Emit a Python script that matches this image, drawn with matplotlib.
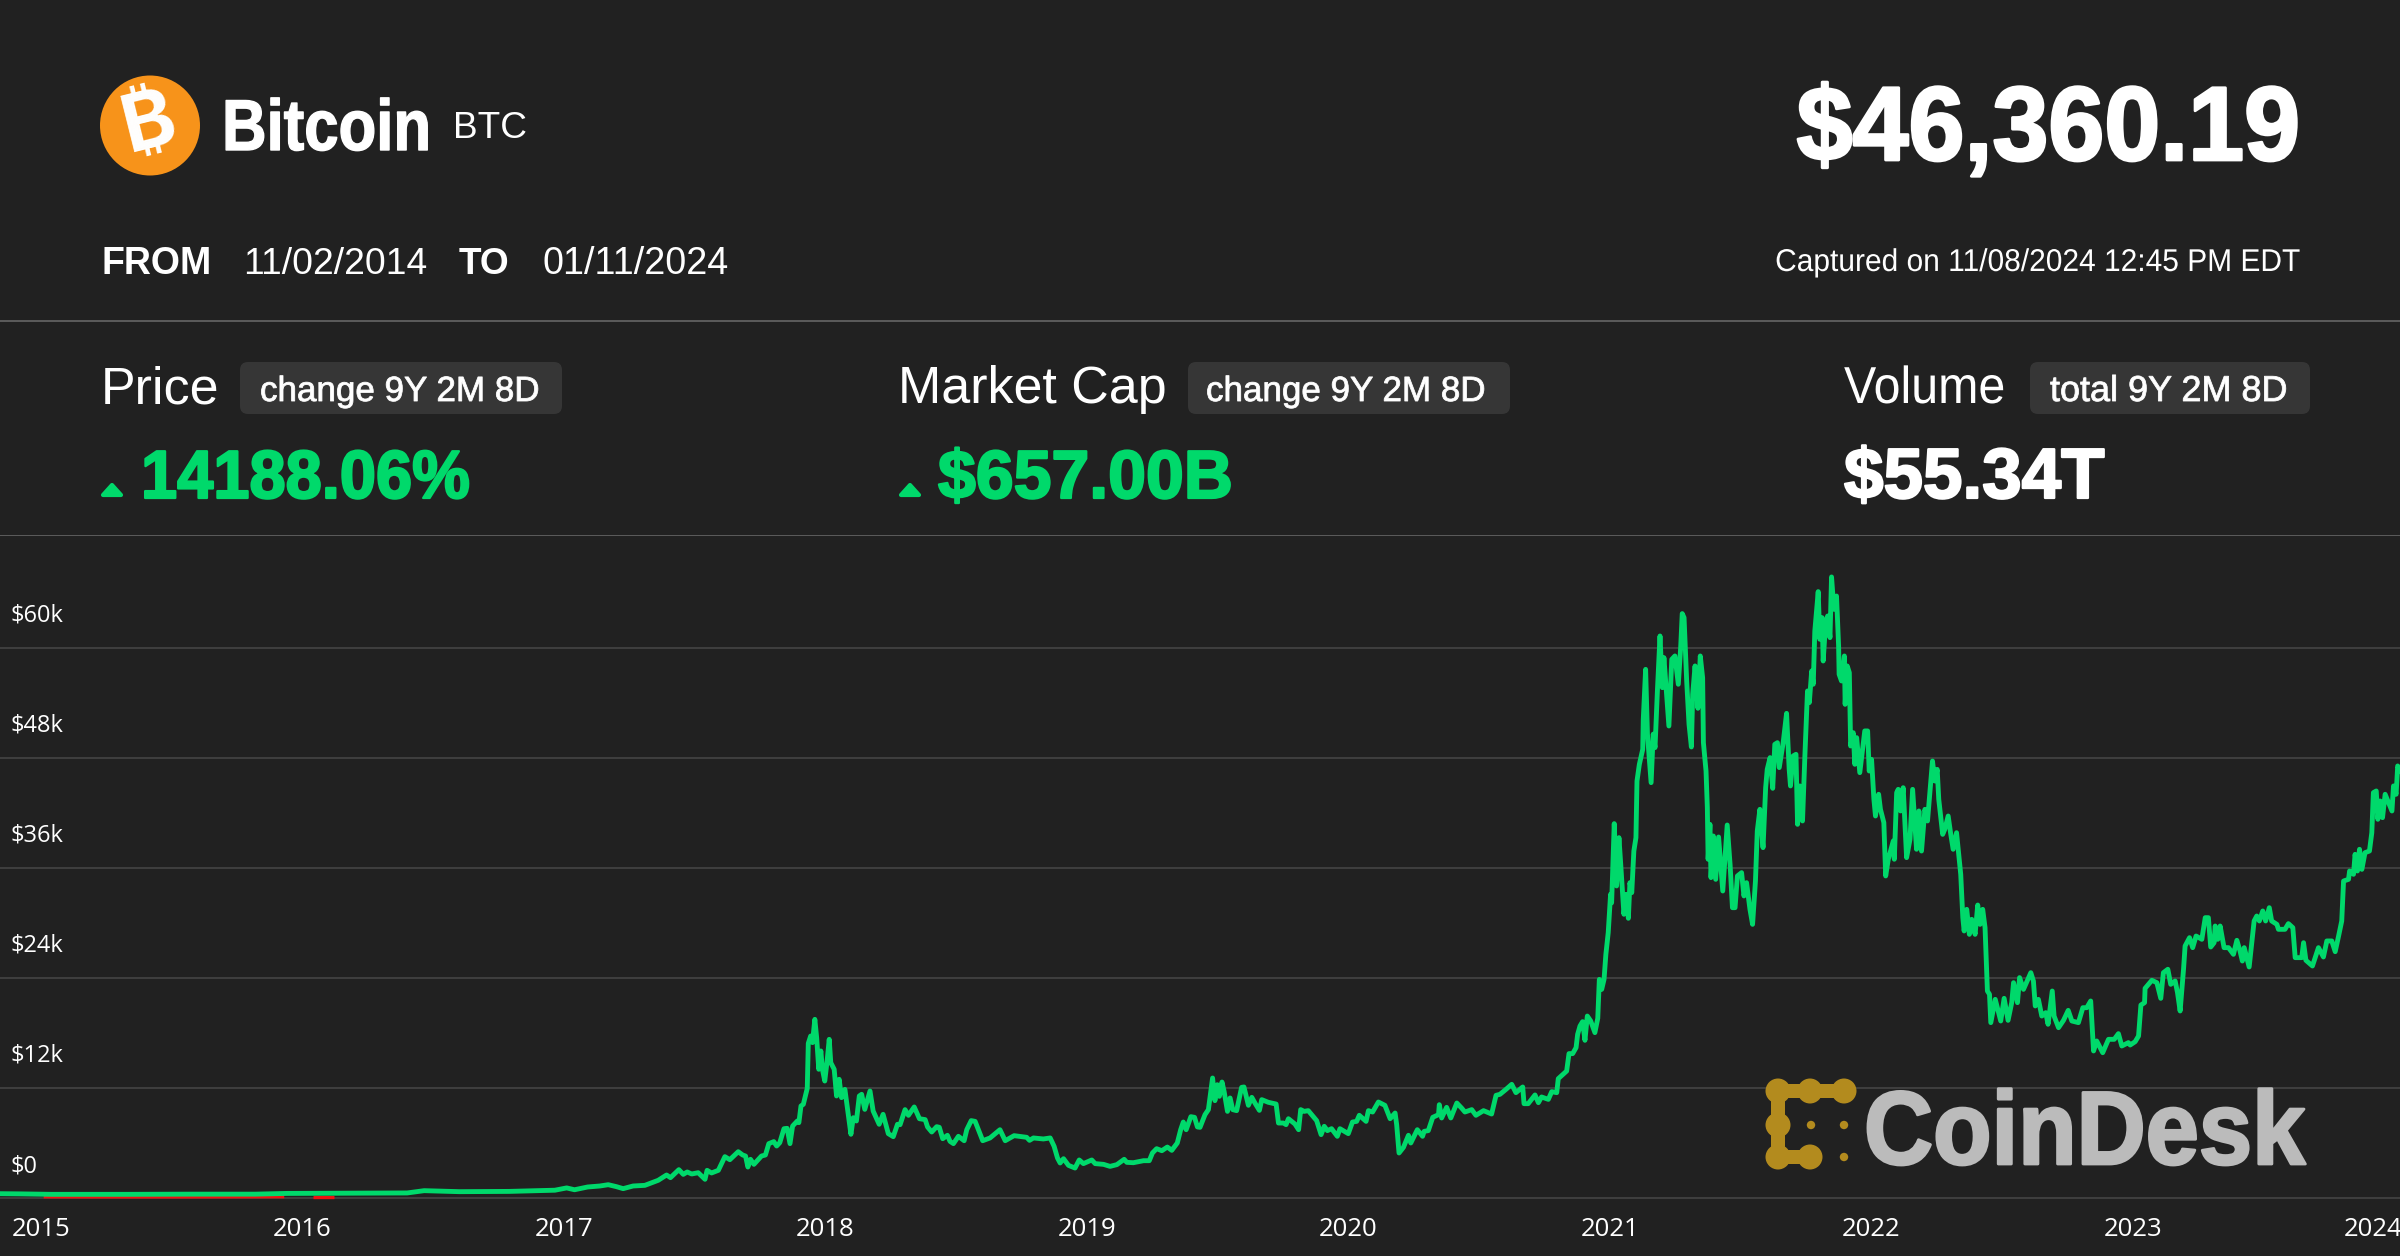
import numpy as np
import matplotlib
matplotlib.use("Agg")
import matplotlib.pyplot as plt
from matplotlib import font_manager as fm
from matplotlib.ft2font import FT2Font
from matplotlib.patches import Circle, FancyBboxPatch, Polygon, Rectangle
from matplotlib.patheffects import AbstractPathEffect
from matplotlib.transforms import Affine2D, ScaledTranslation

# ---------- data (decimal year, price in $k) ----------
years_early = [2014.843,2014.92,2015.04,2015.33,2015.575,2015.82,2015.94,2016.21,2016.40,2016.465,2016.60,2016.79,2016.965,2017.01,2017.04,2017.09]
price_early = [0.47,0.45,0.40,0.40,0.42,0.42,0.50,0.53,0.55,0.80,0.69,0.72,0.85,1.10,0.90,1.20]

years_2017 = [2017.137,2017.169,2017.20,2017.226,2017.264,2017.309,2017.36,2017.392,2017.407,2017.439,2017.456,2017.471,2017.488,2017.513,2017.539,2017.547,2017.564,2017.59,2017.615,2017.634,2017.666,2017.683,2017.694,2017.703,2017.713,2017.726,2017.755,2017.77,2017.783,2017.802,2017.813,2017.825,2017.841,2017.853,2017.864,2017.874,2017.892,2017.898,2017.906,2017.915,2017.93,2017.934,2017.943,2017.95,2017.959,2017.966,2017.974,2017.982,2017.988,2017.997]
price_2017 = [1.31,1.45,1.24,1.02,1.31,1.38,1.93,2.51,2.22,3.09,2.58,2.84,2.62,2.76,2.04,3.02,2.73,3.02,4.51,4.18,5.05,4.69,4.58,3.38,4.22,3.67,4.58,4.69,5.93,6.15,5.67,6.04,7.56,7.6,5.93,7.85,8.4,8.22,10.04,10.22,11.96,16.87,17.67,16.95,19.49,17.49,14.04,16.04,14.04,12.76]

years_2018 = [2018.006,2018.014,2018.02,2018.033,2018.042,2018.052,2018.061,2018.074,2018.087,2018.097,2018.106,2018.118,2018.129,2018.138,2018.15,2018.17,2018.182,2018.205,2018.22,2018.24,2018.259,2018.275,2018.285,2018.304,2018.317,2018.339,2018.359,2018.381,2018.39,2018.406,2018.425,2018.435,2018.448,2018.466,2018.476,2018.489,2018.508,2018.53,2018.54,2018.557,2018.572,2018.601,2018.629,2018.667,2018.687,2018.706,2018.721,2018.769,2018.78,2018.795,2018.833,2018.859,2018.874,2018.887,2018.897,2018.91,2018.929,2018.954,2018.97,2018.986]
price_2018 = [14.95,17.31,14.76,14.04,11.13,12.95,10.95,11.85,9.13,6.95,8.76,8.4,11.13,11.31,9.67,11.67,9.49,8.04,9.13,7.02,6.69,8.04,8.0,9.64,9.02,9.93,8.65,8.55,7.75,7.2,7.78,7.71,6.47,6.84,6.18,5.93,6.73,6.25,7.45,8.44,8.36,6.25,6.55,7.45,6.25,6.55,6.8,6.62,6.29,6.55,6.44,6.55,5.64,4.36,3.82,4.29,3.56,3.27,4.15,3.75]

years_2019 = [2019.018,2019.031,2019.063,2019.088,2019.114,2019.142,2019.152,2019.177,2019.216,2019.238,2019.25,2019.266,2019.286,2019.307,2019.324,2019.345,2019.358,2019.368,2019.379,2019.397,2019.411,2019.422,2019.432,2019.451,2019.464,2019.48,2019.489,2019.498,2019.506,2019.516,2019.524,2019.537,2019.547,2019.557,2019.572,2019.591,2019.6,2019.617,2019.63,2019.642,2019.659,2019.668,2019.693,2019.723,2019.732,2019.751,2019.761,2019.77,2019.795,2019.809,2019.817,2019.83,2019.846,2019.878,2019.895,2019.907,2019.919,2019.935,2019.957,2019.967,2019.999]
price_2019 = [4.15,3.75,3.67,3.45,3.64,4.22,3.89,3.85,4.07,4.07,4.91,5.38,5.16,5.56,5.2,6.0,7.45,8.29,7.45,8.87,8.8,7.75,7.71,9.09,9.64,13.09,10.62,12.36,11.09,12.65,11.64,9.45,10.91,9.64,9.53,12.07,12.11,10.11,10.98,10.36,9.56,10.73,10.44,10.25,8.18,8.18,8.0,8.65,8.07,7.45,9.64,9.45,9.53,8.44,6.91,7.82,7.35,7.56,6.73,7.56,7.02]

years_2020 = [2020.015,2020.031,2020.041,2020.067,2020.076,2020.092,2020.114,2020.139,2020.159,2020.178,2020.184,2020.193,2020.21,2020.229,2020.238,2020.263,2020.283,2020.289,2020.305,2020.322,2020.344,2020.347,2020.356,2020.375,2020.391,2020.414,2020.432,2020.445,2020.471,2020.487,2020.516,2020.547,2020.564,2020.579,2020.602,2020.624,2020.64,2020.666,2020.671,2020.687,2020.713,2020.726,2020.738,2020.764,2020.777,2020.796,2020.802,2020.834,2020.843,2020.857,2020.87,2020.876,2020.885,2020.895,2020.904,2020.913,2020.926,2020.942,2020.953,2020.959,2020.968,2020.977,2020.984,2020.993]
price_2020 = [8.29,8.36,9.02,8.36,9.53,9.38,10.47,10.11,8.65,9.27,8.0,4.91,5.53,6.84,6.0,7.45,6.73,7.27,7.35,8.8,9.09,10.18,8.73,9.89,8.73,10.36,9.82,9.38,9.64,9.02,9.53,9.16,11.2,11.31,11.85,12.4,11.49,12.11,10.29,10.29,11.24,10.4,11.02,10.76,11.6,11.49,13.02,13.85,15.75,15.75,16.4,17.85,18.76,19.24,17.2,19.85,19.31,18.04,19.6,23.85,22.76,23.85,26.58,28.95]

years_2021 = [2021.002,2021.006,2021.016,2021.025,2021.034,2021.04,2021.053,2021.061,2021.07,2021.076,2021.083,2021.091,2021.099,2021.103,2021.112,2021.125,2021.127,2021.136,2021.143,2021.157,2021.165,2021.172,2021.181,2021.191,2021.2,2021.206,2021.216,2021.225,2021.236,2021.248,2021.261,2021.27,2021.276,2021.283,2021.293,2021.302,2021.311,2021.316,2021.325,2021.336,2021.345,2021.354,2021.357,2021.367,2021.372,2021.375,2021.382,2021.386,2021.395,2021.404,2021.415,2021.431,2021.448,2021.459,2021.468,2021.478,2021.487,2021.503,2021.512,2021.522,2021.535,2021.545,2021.556,2021.563,2021.573,2021.585,2021.595,2021.601,2021.612,2021.622,2021.63,2021.64,2021.647,2021.662,2021.675,2021.685,2021.69,2021.7,2021.711,2021.717,2021.726,2021.736,2021.745,2021.755,2021.762,2021.771,2021.777,2021.783,2021.796,2021.802,2021.811,2021.815,2021.824,2021.832,2021.841,2021.847,2021.856,2021.866,2021.874,2021.876,2021.885,2021.896,2021.899,2021.907,2021.915,2021.92,2021.93,2021.936,2021.943,2021.955,2021.974,2021.985,2021.991]
price_2021 = [33.13,32.2,40.84,34.04,39.31,36.76,30.95,33.13,30.51,34.4,33.31,37.85,39.31,45.49,47.3,48.95,52.2,57.67,50.6,45.31,50.6,49.13,55.3,61.31,55.67,58.95,54.95,51.49,58.76,59.13,56.04,60.04,63.75,63.31,56.4,51.67,49.2,54.95,58.04,53.42,59.13,56.76,49.67,46.58,42.58,36.95,40.76,34.95,39.49,34.76,39.38,33.49,40.69,36.38,31.67,31.67,35.13,35.49,32.95,34.4,31.49,29.85,34.58,40.04,42.4,38.22,44.76,46.76,48.04,44.69,49.49,49.67,46.95,49.67,52.87,46.76,44.95,48.22,48.4,40.76,44.95,41.13,48.22,55.31,54.04,57.49,56.04,61.85,66.15,60.95,63.31,58.58,62.58,63.49,61.13,67.75,64.22,65.67,60.22,57.13,56.4,59.13,53.85,58.04,57.31,49.31,50.76,47.31,50.22,46.4,50.95,50.95,46.58]

years_2022 = [2022.0,2022.009,2022.015,2022.027,2022.034,2022.047,2022.054,2022.064,2022.083,2022.087,2022.096,2022.102,2022.111,2022.121,2022.134,2022.147,2022.157,2022.172,2022.181,2022.191,2022.204,2022.214,2022.226,2022.233,2022.242,2022.251,2022.257,2022.272,2022.28,2022.293,2022.302,2022.312,2022.325,2022.332,2022.341,2022.349,2022.354,2022.364,2022.374,2022.383,2022.396,2022.406,2022.415,2022.425,2022.434,2022.443,2022.451,2022.456,2022.473,2022.494,2022.507,2022.522,2022.536,2022.543,2022.558,2022.566,2022.581,2022.609,2022.619,2022.626,2022.638,2022.651,2022.666,2022.675,2022.691,2022.698,2022.715,2022.734,2022.752,2022.766,2022.791,2022.808,2022.823,2022.838,2022.849,2022.861,2022.884,2022.906,2022.928,2022.944,2022.957,2022.982,2022.989]
price_2022 = [47.85,43.49,41.67,44.04,42.4,40.95,35.13,36.95,38.95,36.95,44.22,44.58,42.22,44.76,37.13,39.13,44.58,38.04,42.22,37.85,42.4,41.13,45.31,47.67,45.49,46.76,43.49,39.67,40.22,41.67,39.85,38.04,39.85,37.85,35.31,30.58,29.13,31.49,28.76,30.4,28.76,31.96,29.85,31.49,29.49,22.58,22.22,19.13,21.67,19.31,21.78,19.38,21.31,23.49,21.31,24.04,22.76,24.58,23.67,20.95,21.67,19.85,20.22,18.95,22.58,19.85,18.58,19.38,20.47,19.31,19.13,20.76,20.76,21.49,16.04,17.13,15.85,17.31,17.31,17.93,16.58,16.95,16.69]

years_2023 = [2023.008,2023.021,2023.03,2023.044,2023.046,2023.072,2023.091,2023.106,2023.116,2023.133,2023.144,2023.161,2023.17,2023.18,2023.193,2023.199,2023.216,2023.228,2023.241,2023.263,2023.276,2023.288,2023.297,2023.31,2023.314,2023.324,2023.333,2023.348,2023.365,2023.384,2023.397,2023.409,2023.418,2023.425,2023.444,2023.463,2023.473,2023.483,2023.496,2023.507,2023.521,2023.53,2023.55,2023.556,2023.581,2023.594,2023.611,2023.62,2023.645,2023.652,2023.661,2023.686,2023.709,2023.728,2023.741,2023.76,2023.773,2023.786,2023.798,2023.805,2023.824,2023.828,2023.843,2023.849,2023.858,2023.866,2023.875,2023.887,2023.904,2023.913,2023.919,2023.93,2023.936,2023.945,2023.954,2023.964,2023.99,2023.996,2024.006,2024.012,2024.021]
price_2023 = [17.05,17.67,21.05,21.31,22.87,23.75,23.49,21.78,24.58,24.95,23.31,23.67,22.4,20.4,24.95,27.49,28.4,27.31,28.58,28.22,30.58,30.58,27.38,27.85,29.67,28.22,29.67,27.31,27.31,26.58,28.11,26.95,25.85,27.31,25.2,30.22,30.76,30.22,31.31,30.22,31.67,30.22,29.85,29.31,29.31,29.93,29.49,26.22,26.22,27.85,25.93,25.31,27.31,26.29,28.04,28.04,26.87,28.58,30.22,34.58,34.76,35.67,35.31,37.49,35.67,38.04,35.85,37.67,37.85,39.85,44.22,44.4,41.31,43.31,41.49,44.04,42.22,44.95,44.04,47.13,46.58]

years_red_a = [2015.01,2015.2,2015.5,2015.75,2015.93]
price_red_a = [0.13,0.12,0.12,0.13,0.14]
years_red_b = [2016.04,2016.12]
price_red_b = [0.14,0.14]

tick_years = [2015,2016,2017,2018,2019,2020,2021,2022,2023,2024]
tick_prices = [0,12,24,36,48,60]
tick_price_labels = ["$0","$12k","$24k","$36k","$48k","$60k"]

years = years_early+years_2017+years_2018+years_2019+years_2020+years_2021+years_2022+years_2023
prices = price_early+price_2017+price_2018+price_2019+price_2020+price_2021+price_2022+price_2023

BG = "#212121"; GREEN = "#00D96B"; RED = "#F01010"
W, H = 2400, 1256


class Tall(AbstractPathEffect):
    """Stretch the text upward from its baseline and thicken it, for the tight, heavy original face."""
    def __init__(self, base_y, sy=1.0, stroke=0.0):
        super().__init__()
        self.base_y, self.sy, self.stroke = base_y, sy, stroke
    def draw_path(self, renderer, gc, tpath, affine, rgbFace=None):
        a = affine + Affine2D().translate(0, -self.base_y).scale(1, self.sy).translate(0, self.base_y)
        g = renderer.new_gc()
        g.copy_properties(gc)
        if self.stroke > 0:
            g.set_linewidth(self.stroke)
            g.set_foreground(rgbFace)
        renderer.draw_path(g, tpath, a, rgbFace)
        g.restore()


def family_with(code):
    for name in ["Inter", "Roboto", "Noto Sans", "Open Sans", "Lato", "DejaVu Sans", "Liberation Sans"]:
        try:
            path = fm.findfont(fm.FontProperties(family=name, weight="bold"), fallback_to_default=False)
            if code in FT2Font(path).get_charmap():
                return name
        except Exception:
            pass
    return None


fig = plt.figure(figsize=(W/100, H/100), dpi=100, facecolor=BG)

# ---------- chart ----------
ax = fig.add_axes([0, (H-1198)/H, 1, 662/H], facecolor=BG)
ax.set_xlim(2014.843, 2014.843 + W/261.5)
ax.set_ylim(0, 662/9.167)
for s in ax.spines.values():
    s.set_visible(False)
ax.set_yticks(tick_prices, tick_price_labels)
ax.set_xticks(tick_years, [str(y) for y in tick_years])
ax.tick_params(axis="both", length=0)
ax.tick_params(axis="y", pad=-7.2, labelcolor="white", labelsize=17)
ax.tick_params(axis="x", pad=14, labelcolor="white", labelsize=18.5)
ax.grid(axis="y", color="#454545", lw=1.2)
ax.grid(axis="x", visible=False)
for g in ax.get_ygridlines():
    g.set_clip_on(False)
for lab in ax.get_yticklabels():
    lab.set_fontfamily("Open Sans"); lab.set_ha("left"); lab.set_va("center")
    lab.set_transform(lab.get_transform() + ScaledTranslation(0, 32/100, fig.dpi_scale_trans))
xl = ax.get_xticklabels()
for lab in xl:
    lab.set_fontfamily("Open Sans")
xl[-1].set_ha("right")
xl[-1].set_transform(xl[-1].get_transform() + ScaledTranslation(8/100, 0, fig.dpi_scale_trans))

ax.plot(years_red_a, price_red_a, color=RED, lw=2.4, zorder=2, clip_on=False, solid_capstyle="butt")
ax.plot(years_red_b, price_red_b, color=RED, lw=2.4, zorder=2, clip_on=False, solid_capstyle="butt")
ax.plot(years, prices, color=GREEN, lw=3.5, zorder=3, solid_joinstyle="round", clip_on=False)

# ---------- overlay in pixel space ----------
ov = fig.add_axes([0, 0, 1, 1], facecolor="none")
ov.set_xlim(0, W); ov.set_ylim(H, 0); ov.axis("off")


def txt(x, y, s, px, weight="normal", color="white", ha="left", squeeze=1.0, stroke=0.0,
        family="Liberation Sans", **kw):
    t = ov.text(x, y, s, fontsize=px*squeeze*0.72, fontweight=weight, color=color, ha=ha,
                va="baseline", family=family, **kw)
    if squeeze != 1.0 or stroke:
        t.set_path_effects([Tall(H - y, 1/squeeze, stroke)])
    return t


for y in (321, 535.5):
    ov.add_patch(Rectangle((0, y-0.8), W, 1.6, color="#5a5a5a", lw=0))

# Bitcoin logo
ov.add_patch(Circle((150, 125.5), 50, color="#F7931A", lw=0))
sym_family = family_with(0x20BF)
ov.text(150, 125.5, "₿" if sym_family else "B", fontsize=80*0.72, fontweight="bold", color="white",
        ha="center", va="center", family=sym_family or "Liberation Sans", rotation=14, rotation_mode="anchor")

txt(222, 150, "Bitcoin", 72, "bold", squeeze=0.857, stroke=1.0)
txt(453, 138, "BTC", 37)
txt(2300, 160, "$46,360.19", 105, "bold", ha="right", squeeze=0.958, stroke=2.0)

txt(101, 274, "FROM", 37.5, "bold")
txt(243, 274, "11/02/2014", 37.3)
txt(459, 274, "TO", 37, "bold")
txt(543, 274, "01/11/2024", 37.7)
txt(2299, 271, "Captured on 11/08/2024 12:45 PM EDT", 31.5, ha="right", squeeze=0.95)


def badge(x0, x1, tx, s, px=35):
    ov.add_patch(FancyBboxPatch((x0+8, 370), x1-x0-16, 36, boxstyle="round,pad=8,rounding_size=8",
                                fc="#363636", ec="none", lw=0))
    txt(tx, 401, s, px, stroke=0.6)


def tri(x0):
    ov.add_patch(Polygon([(x0+3, 495), (x0+21, 495), (x0+12, 485)], closed=True, fc=GREEN, ec=GREEN,
                         lw=3, joinstyle="round"))


txt(101, 403, "Price", 52)
badge(240, 562, 260, "change 9Y 2M 8D")
tri(100)
txt(141, 498, "14188.06%", 68, "bold", color=GREEN, squeeze=0.956, stroke=1.6)

txt(898, 403, "Market Cap", 52)
badge(1188, 1510, 1206, "change 9Y 2M 8D")
tri(898)
txt(938, 498, "$657.00B", 68, "bold", color=GREEN, stroke=1.6)

txt(1844, 403, "Volume", 52, squeeze=0.93)
badge(2030, 2310, 2050, "total 9Y 2M 8D", px=36)
txt(1844, 498, "$55.34T", 71, "bold", stroke=1.6)

# CoinDesk mark and wordmark
GOLD = "#B38B1E"
for cx, cy in [(1778,1091),(1810,1091),(1844,1091),(1778,1125),(1778,1157),(1810,1157)]:
    ov.add_patch(Circle((cx, cy), 12.5, color=GOLD, lw=0, zorder=5))
ov.add_patch(Rectangle((1778, 1084), 66, 14, color=GOLD, lw=0, zorder=5))
ov.add_patch(Rectangle((1771, 1091), 14, 66, color=GOLD, lw=0, zorder=5))
ov.add_patch(Rectangle((1778, 1150), 32, 14, color=GOLD, lw=0, zorder=5))
for cx, cy in [(1811,1125),(1844,1125),(1844,1157)]:
    ov.add_patch(Circle((cx, cy), 4.2, color=GOLD, lw=0, zorder=5))
txt(1864, 1164, "CoinDesk", 104, "bold", color="#BBBBBB", squeeze=0.92, stroke=2.0, zorder=5)

fig.savefig("out.png", dpi=100, facecolor=BG)
